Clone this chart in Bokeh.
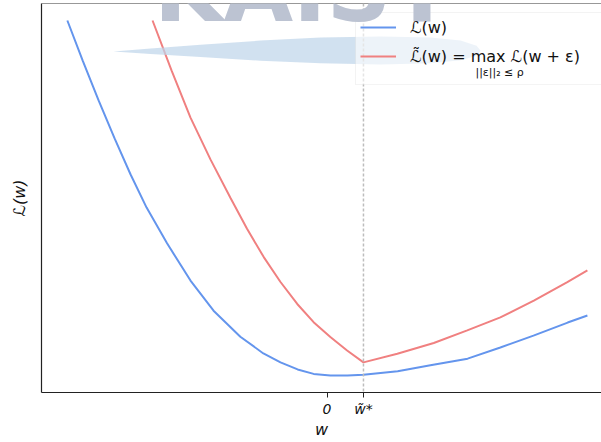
from bokeh.plotting import figure
from bokeh.models import (Range1d, FixedTicker, Span, Legend, LegendItem, Label,
                          BoxAnnotation)
from bokeh.embed import file_html
from bokeh.resources import INLINE

# ---- data (w, loss) ----
W_BLUE = [-6.98, -6.57, -6.14, -5.71, -5.28, -4.85, -4.30, -3.67, -3.05, -2.33,
          -1.71, -1.25, -0.79, -0.36, 0.09, 0.55, 0.98, 1.90, 2.78, 3.78,
          4.66, 5.55, 6.47, 7.00]
L_BLUE = [10.00, 8.93, 7.85, 6.83, 5.86, 4.97, 4.01, 3.01, 2.20, 1.50,
          1.05, 0.81, 0.62, 0.50, 0.46, 0.46, 0.48, 0.57, 0.73, 0.91,
          1.21, 1.53, 1.88, 2.07]

W_RED = [-4.69, -4.18, -3.67, -3.13, -2.59, -2.15, -1.70, -1.25, -0.80, -0.36,
         0.09, 0.54, 0.98, 1.89, 2.87, 3.77, 4.66, 5.56, 6.46, 7.00]
L_RED = [10.00, 8.66, 7.39, 6.26, 5.22, 4.40, 3.64, 2.97, 2.38, 1.89,
         1.49, 1.13, 0.81, 1.04, 1.33, 1.67, 2.02, 2.47, 2.97, 3.28]

W_STAR = 0.98
TICKS = [0, W_STAR]
TICK_LABELS = ["0", "w\u0303*"]

LABEL_BLUE = "\u2112(w)"
LABEL_RED = "\u2112\u0303(w) = max \u2112(w + \u03b5)"
LABEL_SUB = "||\u03b5||\u2082 \u2264 \u03c1"

X_RANGE = (-7.675, 7.379)
Y_RANGE = (0.0, 10.457)

# ---- decoration (watermark / legend frame), in data units ----
WM_TEXT = "KAIST"
WM_POS = (-4.66, 9.41)
BAND_W = [-5.74, -4.74, -3.40, -1.79, -0.17, 1.44, 2.78, 3.59, 4.02, 4.13,
          4.02, 3.59, 2.78, 1.44, -0.17, -1.79, -3.40, -4.74]
BAND_L = [9.17, 9.25, 9.35, 9.46, 9.54, 9.57, 9.54, 9.46, 9.32, 9.19,
          9.05, 8.93, 8.85, 8.82, 8.85, 8.92, 9.02, 9.10]
LEG_BOX = (0.766, 10.215, 8.28)   # left, top, bottom
SUB_POS = (4.64, 8.60)

p = figure(width=601, height=442, output_backend="svg", toolbar_location=None,
           x_range=Range1d(*X_RANGE), y_range=Range1d(*Y_RANGE),
           min_border_left=41, min_border_right=0, min_border_top=3,
           min_border_bottom=50, outline_line_color=None,
           background_fill_color="white", border_fill_color="white")
p.xgrid.visible = False
p.ygrid.visible = False

# axes
p.xaxis.ticker = FixedTicker(ticks=TICKS)
p.xaxis.major_label_overrides = {t: s for t, s in zip(TICKS, TICK_LABELS)}
p.xaxis.minor_tick_line_color = None
p.xaxis.major_tick_in = 0
p.xaxis.major_tick_out = 5
p.xaxis.major_tick_line_color = "#222222"
p.xaxis.axis_line_color = "#222222"
p.xaxis.axis_line_width = 1.2
p.xaxis.major_label_standoff = 3
p.xaxis.major_label_text_font = "DejaVu Sans"
p.xaxis.major_label_text_font_size = "14px"
p.xaxis.major_label_text_font_style = "italic"
p.xaxis.major_label_text_color = "#111111"
p.xaxis.axis_label = "w"
p.xaxis.axis_label_text_font = "DejaVu Sans"
p.xaxis.axis_label_text_font_size = "16px"
p.xaxis.axis_label_text_font_style = "italic"
p.xaxis.axis_label_text_color = "#111111"
p.xaxis.axis_label_standoff = 0

p.yaxis.ticker = FixedTicker(ticks=[])
p.yaxis.minor_tick_line_color = None
p.yaxis.major_tick_line_color = None
p.yaxis.axis_line_color = "#222222"
p.yaxis.axis_line_width = 1.2
p.yaxis.axis_label = LABEL_BLUE
p.yaxis.axis_label_text_font = "DejaVu Sans"
p.yaxis.axis_label_text_font_size = "16px"
p.yaxis.axis_label_text_font_style = "italic"
p.yaxis.axis_label_text_color = "#111111"
p.yaxis.axis_label_standoff = 13

top_line = Span(location=Y_RANGE[1], dimension="width", line_color="#333333",
                line_width=1.2)
p.add_layout(top_line)

vline = Span(location=W_STAR, dimension="height", line_color="#bdbdbd",
             line_dash="3 2", line_width=1.5)
p.add_layout(vline)

blue = p.line(W_BLUE, L_BLUE, line_color="#6495ED", line_width=2)
red = p.line(W_RED, L_RED, line_color="#F08080", line_width=2)

# watermark band
p.patch(BAND_W, BAND_L, fill_color="#bdd4ea", fill_alpha=0.7, line_color=None)

# legend frame
box = BoxAnnotation(left=LEG_BOX[0], top=LEG_BOX[1], bottom=LEG_BOX[2],
                    fill_color="white", fill_alpha=0.6,
                    line_color="#d6d6d6", line_width=1)
p.add_layout(box)

legend = Legend(items=[LegendItem(label=LABEL_BLUE, renderers=[blue]),
                       LegendItem(label=LABEL_RED, renderers=[red])],
                location=(314, 321), padding=5, spacing=9, margin=0,
                glyph_width=36, glyph_height=20, label_height=20,
                label_standoff=14, border_line_alpha=0,
                background_fill_alpha=0,
                label_text_font="DejaVu Sans", label_text_font_size="16px",
                label_text_color="#111111")
p.add_layout(legend)

sub = Label(x=SUB_POS[0], y=SUB_POS[1], text=LABEL_SUB, text_font="DejaVu Sans",
            text_font_size="11px", text_align="center", text_baseline="middle",
            text_color="#111111")
p.add_layout(sub)

# watermark letters (only their lower part is inside the picture)
wm = Label(x=WM_POS[0], y=WM_POS[1], text=WM_TEXT, text_font="DejaVu Sans",
           text_font_style="bold", text_font_size="90px", text_color="#bcc3d2",
           text_baseline="bottom", text_align="left")
p.add_layout(wm)

open("out.html", "w").write(file_html(p, INLINE))
